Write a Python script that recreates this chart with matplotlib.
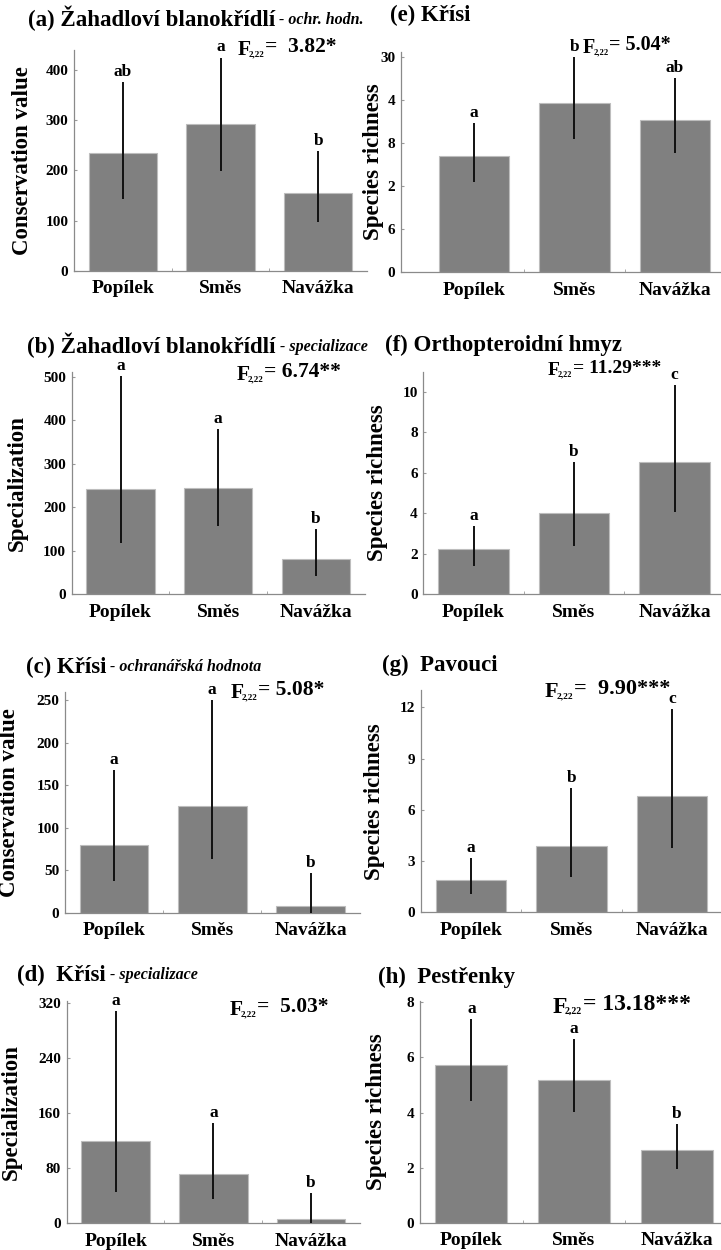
import matplotlib
matplotlib.use("Agg")
import matplotlib.pyplot as plt
import numpy as np

plt.rcParams['font.family'] = ['Liberation Serif', 'DejaVu Serif']
plt.rcParams['font.weight'] = 'bold'

W, H = 721, 1250

categories = ['Popílek', 'Směs', 'Navážka']

# (a) Žahadloví blanokřídlí - conservation value
a_mean = [234, 292, 154]
a_hi = [377, 425, 239]
a_lo = [143, 199, 98]
a_letters = ['ab', 'a', 'b']

# (e) Křísi - species richness
e_mean = [16.2, 23.6, 21.3]
e_hi = [20.8, 30.0, 27.1]
e_lo = [12.6, 18.6, 16.6]
e_letters = ['a', 'b', 'ab']
e_ticks = [0, 6, 12, 18, 24, 30]
e_ticklabels = ['0', '6', '2', '8', '4', '30']

# (b) Žahadloví blanokřídlí - specialization
b_mean = [243, 244, 80]
b_hi = [502, 380, 150]
b_lo = [117, 157, 43]
b_letters = ['a', 'a', 'b']

# (f) Orthopteroidní hmyz
f_mean = [2.21, 3.99, 6.52]
f_hi = [3.38, 6.55, 10.35]
f_lo = [1.39, 2.39, 4.08]
f_letters = ['a', 'b', 'c']

# (c) Křísi - conservation value
c_mean = [79, 125, 8]
c_hi = [168, 250, 47]
c_lo = [37, 63, 0]
c_letters = ['a', 'a', 'b']

# (g) Pavouci
g_mean = [1.89, 3.90, 6.79]
g_hi = [3.2, 7.3, 11.9]
g_lo = [1.07, 2.05, 3.75]
g_letters = ['a', 'b', 'c']

# (d) Křísi - specialization
d_mean = [120, 72, 5.8]
d_hi = [308, 146, 43.5]
d_lo = [46, 35, 0]
d_letters = ['a', 'a', 'b']

# (h) Pestřenky
h_mean = [5.74, 5.17, 2.64]
h_hi = [7.38, 6.66, 3.58]
h_lo = [4.43, 4.03, 1.94]
h_letters = ['a', 'a', 'b']

BAR = '#808080'


def px_rect(left, top, right, bottom):
    return [left / W, 1 - bottom / H, (right - left) / W, (bottom - top) / H]


def fig_text(fig, x, y, s, **kw):
    return fig.text(x / W, 1 - y / H, s, **kw)


def ftest(fig, x, y, value, size=15.5):
    # F with a small 2,22 subscript, then the value
    fig_text(fig, x, y, 'F', fontsize=size, fontweight='bold', va='baseline')
    s = fig_text(fig, x + size * 0.71, y + 1, '2,22', fontsize=size * 0.42,
                 fontweight='bold', va='baseline')
    plt.annotate('=' + value, xy=(1, 0), xycoords=s, xytext=(0.5, 0.5),
                 textcoords='offset points', fontsize=size, fontweight='bold',
                 va='bottom')


def title(fig, x, y, main, sub=None):
    t = fig_text(fig, x, y, main, fontsize=16.5, fontweight='bold', va='center')
    if sub:
        plt.annotate(' - ' + sub, xy=(1, 0), xycoords=t, xytext=(0, 2),
                     textcoords='offset points', fontsize=11.5, fontweight='bold',
                     fontstyle='italic', va='bottom')


def panel(fig, rect, mean, hi, lo, letters, ylim, yticks, ylabel, xlim=(-0.5, 2.5),
          yticklabels=None, label_x=None):
    ax = fig.add_axes(px_rect(*rect))
    x = np.arange(len(categories))
    mean = np.array(mean, dtype=float)
    yerr = [mean - np.array(lo), np.array(hi) - mean]
    ax.bar(x, mean, width=0.7, color=BAR, edgecolor='#bdbdbd', linewidth=0.8, zorder=2)
    ax.errorbar(x, mean, yerr=yerr, fmt='none', ecolor='#111111', elinewidth=1.4,
                capsize=0, zorder=3)
    for xi, top, lab in zip(x, hi, letters):
        ax.annotate(lab, (xi, top), xytext=(0, 1.5), textcoords='offset points',
                    ha='center', va='bottom', fontsize=12.5, fontweight='bold')
    ax.set_xlim(*xlim)
    ax.set_ylim(*ylim)
    ax.set_xticks(x)
    ax.set_xticklabels(categories, fontsize=14, fontweight='bold')
    ax.set_xticks([0.5, 1.5], minor=True)
    ax.set_yticks(yticks)
    if yticklabels is not None:
        ax.set_yticklabels(yticklabels)
    ax.tick_params(axis='x', which='major', length=0, pad=7)
    ax.tick_params(axis='x', which='minor', length=2.5, direction='in', color='#999999')
    ax.tick_params(axis='y', length=2, direction='in', pad=4, labelsize=11,
                   color='#999999')
    for lab in ax.get_yticklabels():
        lab.set_fontweight('bold')
    for side in ['top', 'right']:
        ax.spines[side].set_visible(False)
    for side in ['left', 'bottom']:
        ax.spines[side].set_color('#8a8a8a')
        ax.spines[side].set_linewidth(0.9)
    ax.set_ylabel(ylabel, fontsize=16.5, fontweight='bold')
    if label_x is not None:
        ax.yaxis.set_label_coords((label_x - rect[0]) / (rect[2] - rect[0]), 0.5)
    return ax


fig = plt.figure(figsize=(W / 100, H / 100), dpi=100)
fig.patch.set_facecolor('white')

# left column
panel(fig, (74, 50, 367, 270.7), a_mean, a_hi, a_lo, a_letters, (0, 440),
      [0, 100, 200, 300, 400], 'Conservation value', label_x=33)
title(fig, 28, 18, '(a) Žahadloví blanokřídlí', 'ochr. hodn.')
ftest(fig, 238, 55, '  3.82*')

panel(fig, (71.7, 371.9, 364.8, 594.3), b_mean, b_hi, b_lo, b_letters, (0, 511),
      [0, 100, 200, 300, 400, 500], 'Specialization', label_x=28)
title(fig, 27, 345, '(b) Žahadloví blanokřídlí', 'specializace')
ftest(fig, 237, 380, ' 6.74**')

panel(fig, (65, 691.5, 359.6, 912.7), c_mean, c_hi, c_lo, c_letters, (0, 260),
      [0, 50, 100, 150, 200, 250], 'Conservation value', label_x=20)
title(fig, 26, 667, '(c) Křísi', 'ochranářská hodnota')
ftest(fig, 231, 698, ' 5.08*')

panel(fig, (66.7, 1000.5, 360, 1223.3), d_mean, d_hi, d_lo, d_letters, (0, 323),
      [0, 80, 160, 240, 320], 'Specialization', label_x=22)
title(fig, 17, 975, '(d)  Křísi', 'specializace')
ftest(fig, 230, 1015, '  5.03*')

# right column
panel(fig, (400.7, 51.7, 725, 272.3), e_mean, e_hi, e_lo, e_letters, (0, 30.8),
      e_ticks, 'Species richness', xlim=(-0.73, 2.5), yticklabels=e_ticklabels,
      label_x=384)
title(fig, 390, 15, '(e) Křísi')
ftest(fig, 583, 53, ' 5.04*', size=14.5)

panel(fig, (423.3, 371.8, 724.8, 594), f_mean, f_hi, f_lo, f_letters, (0, 11),
      [0, 2, 4, 6, 8, 10], 'Species richness', label_x=388)
title(fig, 385, 345, '(f) Orthopteroidní hmyz')
ftest(fig, 548, 375, ' 11.29***', size=14)

panel(fig, (420.7, 690.3, 722.2, 912.3), g_mean, g_hi, g_lo, g_letters, (0, 13),
      [0, 3, 6, 9, 12], 'Species richness', label_x=385)
title(fig, 382, 665, '(g)  Pavouci')
ftest(fig, 545, 697, '  9.90***', size=16)

panel(fig, (420, 1000.7, 728, 1222.7), h_mean, h_hi, h_lo, h_letters, (0, 8.06),
      [0, 2, 4, 6, 8], 'Species richness', label_x=387)
title(fig, 378, 977, '(h)  Pestřenky')
ftest(fig, 553, 1013, ' 13.18***', size=17)

fig.savefig('out.png', dpi=100)
